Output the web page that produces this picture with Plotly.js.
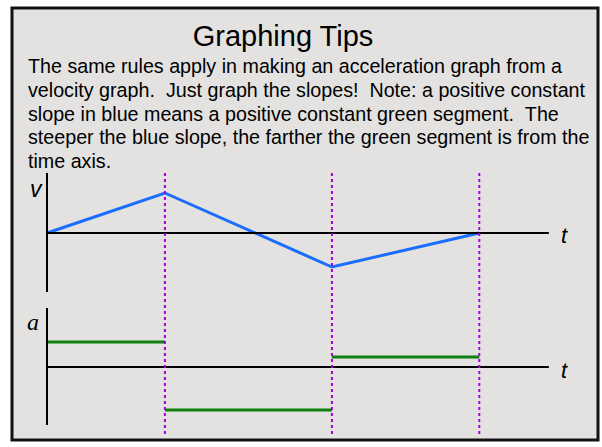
<!DOCTYPE html>
<html>
<head>
<meta charset="utf-8">
<script src="https://cdn.plot.ly/plotly-3.0.1.min.js"></script>
<style>
  html, body { margin: 0; padding: 0; background: #ffffff; }
  #chart { width: 602px; height: 447px; }
</style>
</head>
<body>
<div id="chart"></div>
<script>
// ---- data ----
const tBreaks = [0, 3, 7.25, 11];          // times of the slope changes
const velocity = [0, 4, -3.4, 0];          // v at each break (blue)
const accel = [2.5, -4.3, 1.0];            // a on each interval (green)
const tAxisEnd = 12.77;                    // end of the time axes
const titleText = 'Graphing Tips';
const paragraphLines = [
  'The same rules apply in making an acceleration graph from a',
  'velocity graph. \u00a0Just graph the slopes! \u00a0Note: a positive constant',
  'slope in blue means a positive constant green segment. \u00a0The',
  'steeper the blue slope, the farther the green segment is from the',
  'time axis.'
];

// ---- build traces ----
const accX = [], accY = [];
for (let i = 0; i < accel.length; i++) {
  accX.push(tBreaks[i], tBreaks[i + 1], null);
  accY.push(accel[i], accel[i], null);
}

const traces = [
  { x: tBreaks, y: velocity, xaxis: 'x', yaxis: 'y', mode: 'lines',
    line: { color: '#1a6dff', width: 3 }, hoverinfo: 'skip' },
  { x: accX, y: accY, xaxis: 'x', yaxis: 'y2', mode: 'lines',
    line: { color: '#0c7f0c', width: 3 }, hoverinfo: 'skip' }
];

const sans = 'Liberation Sans, Arial, Helvetica, sans-serif';
const serif = 'Liberation Serif, Times New Roman, serif';

const shapes = [
  // slide frame
  { type: 'rect', xref: 'paper', yref: 'paper', x0: 12/602, x1: 598/602,
    y0: 1 - 440/447, y1: 1 - 8/447, line: { color: '#111', width: 3 },
    fillcolor: '#e3e2e0', layer: 'below' },
  // v graph axes
  { type: 'line', xref: 'x', yref: 'y', x0: 0, x1: 0, y0: 6.0, y1: -5.9,
    line: { color: '#000', width: 2 } },
  { type: 'line', xref: 'x', yref: 'y', x0: 0, x1: tAxisEnd, y0: 0, y1: 0,
    line: { color: '#000', width: 2 } },
  // a graph axes
  { type: 'line', xref: 'x', yref: 'y2', x0: 0, x1: 0, y0: 5.9, y1: -5.8,
    line: { color: '#000', width: 2 } },
  { type: 'line', xref: 'x', yref: 'y2', x0: 0, x1: tAxisEnd, y0: 0, y1: 0,
    line: { color: '#000', width: 2 } }
];
tBreaks.slice(1).forEach(t => {
  shapes.push({ type: 'line', xref: 'x', yref: 'y', x0: t, x1: t, y0: 6.0, y1: -20.2,
    line: { color: '#a400d8', width: 2, dash: 'dot' } });
});

const annotations = paragraphLines.map((line, i) => ({
  xref: 'paper', yref: 'paper', x: 26/602, y: 1 - (66 + 23.75 * i)/447,
  xanchor: 'left', yanchor: 'middle', align: 'left', showarrow: false,
  text: line, font: { family: sans, size: 19.7, color: '#000' }
}));
annotations.push(
  { xref: 'x', yref: 'y', x: -0.28, y: 4.4, text: 'v', showarrow: false,
    font: { family: sans, size: 23, color: '#000', style: 'italic' } },
  { xref: 'x', yref: 'y', x: 13.18, y: -0.2, text: 't', showarrow: false,
    font: { family: sans, size: 22, color: '#000', style: 'italic' } },
  { xref: 'x', yref: 'y2', x: -0.36, y: 4.5, text: 'a', showarrow: false,
    font: { family: serif, size: 24, color: '#000', style: 'italic' } },
  { xref: 'x', yref: 'y2', x: 13.18, y: -0.3, text: 't', showarrow: false,
    font: { family: sans, size: 22, color: '#000', style: 'italic' } }
);

const layout = {
  width: 602, height: 447,
  margin: { l: 0, r: 0, t: 0, b: 0, pad: 0 },
  paper_bgcolor: '#ffffff', plot_bgcolor: 'rgba(0,0,0,0)',
  showlegend: false,
  title: { text: titleText, x: 283/602, xanchor: 'center', xref: 'paper',
    y: 1 - 36/447, yanchor: 'middle', yref: 'paper',
    font: { family: sans, size: 29, color: '#000' } },
  xaxis: { range: [-47/39.3, 555/39.3], visible: false, fixedrange: true },
  yaxis: { range: [-21.4, 23.3], visible: false, fixedrange: true },
  yaxis2: { range: [-8, 36.7], visible: false, overlaying: 'y', fixedrange: true },
  shapes: shapes,
  annotations: annotations
};

Plotly.newPlot('chart', traces, layout, { staticPlot: true, displayModeBar: false });
</script>
</body>
</html>
